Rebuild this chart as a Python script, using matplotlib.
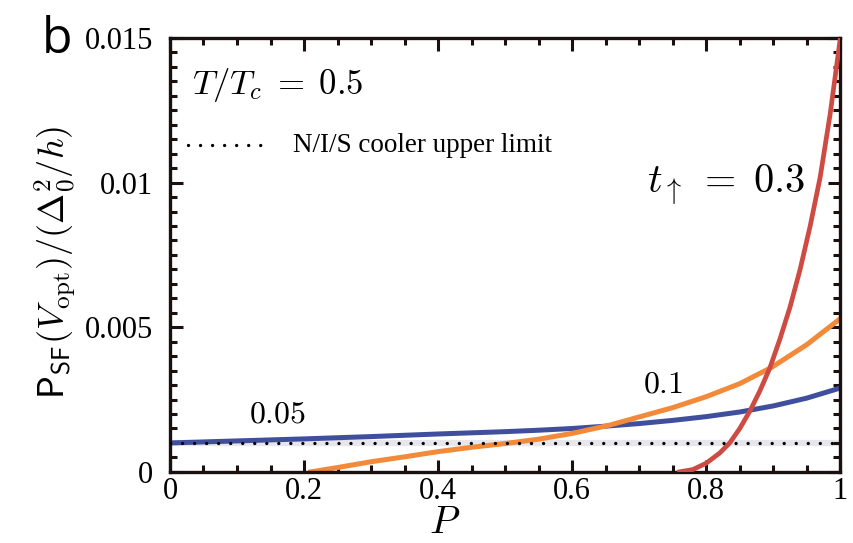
import matplotlib
matplotlib.use("Agg")
import matplotlib.pyplot as plt
from matplotlib.ticker import MultipleLocator, FuncFormatter

plt.rcParams['mathtext.fontset'] = 'cm'
plt.rcParams['font.family'] = ['Liberation Serif', 'DejaVu Serif']

# data
p_005 = [0.0, 0.1, 0.2, 0.3, 0.4, 0.5, 0.55, 0.6, 0.65, 0.7, 0.75, 0.8, 0.85, 0.9, 0.95, 1.0]
v_005 = [0.001, 0.00107, 0.00114, 0.00122, 0.00131, 0.00139, 0.00144, 0.0015, 0.00158,
         0.00167, 0.00178, 0.00191, 0.00207, 0.00228, 0.00255, 0.0029]
p_01 = [0.21, 0.25, 0.3, 0.35, 0.4, 0.45, 0.5, 0.55, 0.6, 0.655, 0.7, 0.75, 0.8, 0.85,
        0.898, 0.95, 1.0]
v_01 = [0.0, 0.00015, 0.00035, 0.00052, 0.0007, 0.00085, 0.00098, 0.00113, 0.00133,
        0.00161, 0.0019, 0.00222, 0.0026, 0.00305, 0.00362, 0.0044, 0.0053]
p_03 = [0.76, 0.78, 0.8, 0.82, 0.835, 0.85, 0.865, 0.88, 0.895, 0.91, 0.925, 0.94,
        0.955, 0.97, 0.985, 1.0]
v_03 = [0.0, 0.00008, 0.0003, 0.00065, 0.001, 0.0015, 0.0021, 0.0028, 0.0036, 0.0046,
        0.0057, 0.007, 0.0085, 0.0102, 0.0124, 0.015]
nis_limit = 0.001
x_ticks = [0, 0.2, 0.4, 0.6, 0.8, 1]
y_ticks = [0, 0.005, 0.01, 0.015]

fig = plt.figure(figsize=(8.54, 5.43), dpi=100)
ax = fig.add_axes([0.199, 0.131, 0.785, 0.799])

ax.plot([0, 1], [nis_limit, nis_limit], color='#e6e6ec', lw=4.5, solid_capstyle='butt', zorder=1)
ax.plot([0, 1], [nis_limit, nis_limit], color='black', lw=2.4, linestyle=(0, (0.01, 3.6)),
        dash_capstyle='round', zorder=4)
ax.plot(p_005, v_005, color='#3f4f9e', lw=3.6, zorder=2, solid_joinstyle='round')
ax.plot(p_01, v_01, color='#f28a3a', lw=3.6, zorder=2, solid_joinstyle='round')
ax.plot(p_03, v_03, color='#cd4b42', lw=3.4, zorder=3, solid_joinstyle='round')

ax.set_xlim(0, 1)
ax.set_ylim(0, 0.015)
ax.set_xticks(x_ticks)
ax.set_yticks(y_ticks)
ax.xaxis.set_minor_locator(MultipleLocator(0.05))
ax.yaxis.set_minor_locator(MultipleLocator(0.0005))

def fmt(v, pos):
    if abs(v) < 1e-12:
        return '0'
    if abs(v - 1) < 1e-9:
        return '1'
    return ('%.3f' % v).rstrip('0')

ax.xaxis.set_major_formatter(FuncFormatter(fmt))
ax.yaxis.set_major_formatter(FuncFormatter(fmt))
ax.tick_params(which='both', direction='in', top=True, right=True, width=2.2,
               labelsize=22, color='#1a1010')
ax.tick_params(which='major', length=9)
ax.tick_params(which='minor', length=5)
ax.tick_params(axis='x', which='major', pad=4)
ax.tick_params(axis='y', which='major', pad=12)
for s in ax.spines.values():
    s.set_linewidth(2.4)
    s.set_color('#1a1010')

ax.set_xlabel(r'$P$', fontsize=28, va='baseline')
ax.xaxis.set_label_coords(0.41, -0.14)
ax.set_ylabel(r'$\mathsf{P}_{\mathsf{SF}}(V_{\rm opt})/(\Delta_0^2/h)$', fontsize=26, va='center')
ax.yaxis.set_label_coords(-0.17, 0.484)

ax.text(0.033, 0.892, r'$T/T_c\;=\;0.5$', transform=ax.transAxes, fontsize=25, va='center', ha='left')
ax.plot([0.027, 0.152], [0.753, 0.753], transform=ax.transAxes, color='black', lw=2.4,
        linestyle=(0, (0.01, 3.6)), dash_capstyle='round')
ax.text(0.184, 0.753, 'N/I/S cooler upper limit', transform=ax.transAxes, fontsize=19.5,
        va='center', ha='left')
ax.text(0.712, 0.661, r'$t_{\uparrow}\;=\;0.3$', transform=ax.transAxes, fontsize=29, va='center', ha='left')
ax.text(0.705, 0.2, r'$0.1$', transform=ax.transAxes, fontsize=23, va='center', ha='left')
ax.text(0.118, 0.132, r'$0.05$', transform=ax.transAxes, fontsize=23, va='center', ha='left')

fig.text(0.067, 0.925, 'b', fontsize=36, family=['Open Sans', 'DejaVu Sans'], va='center', ha='center')

fig.savefig('out.png', dpi=100)
